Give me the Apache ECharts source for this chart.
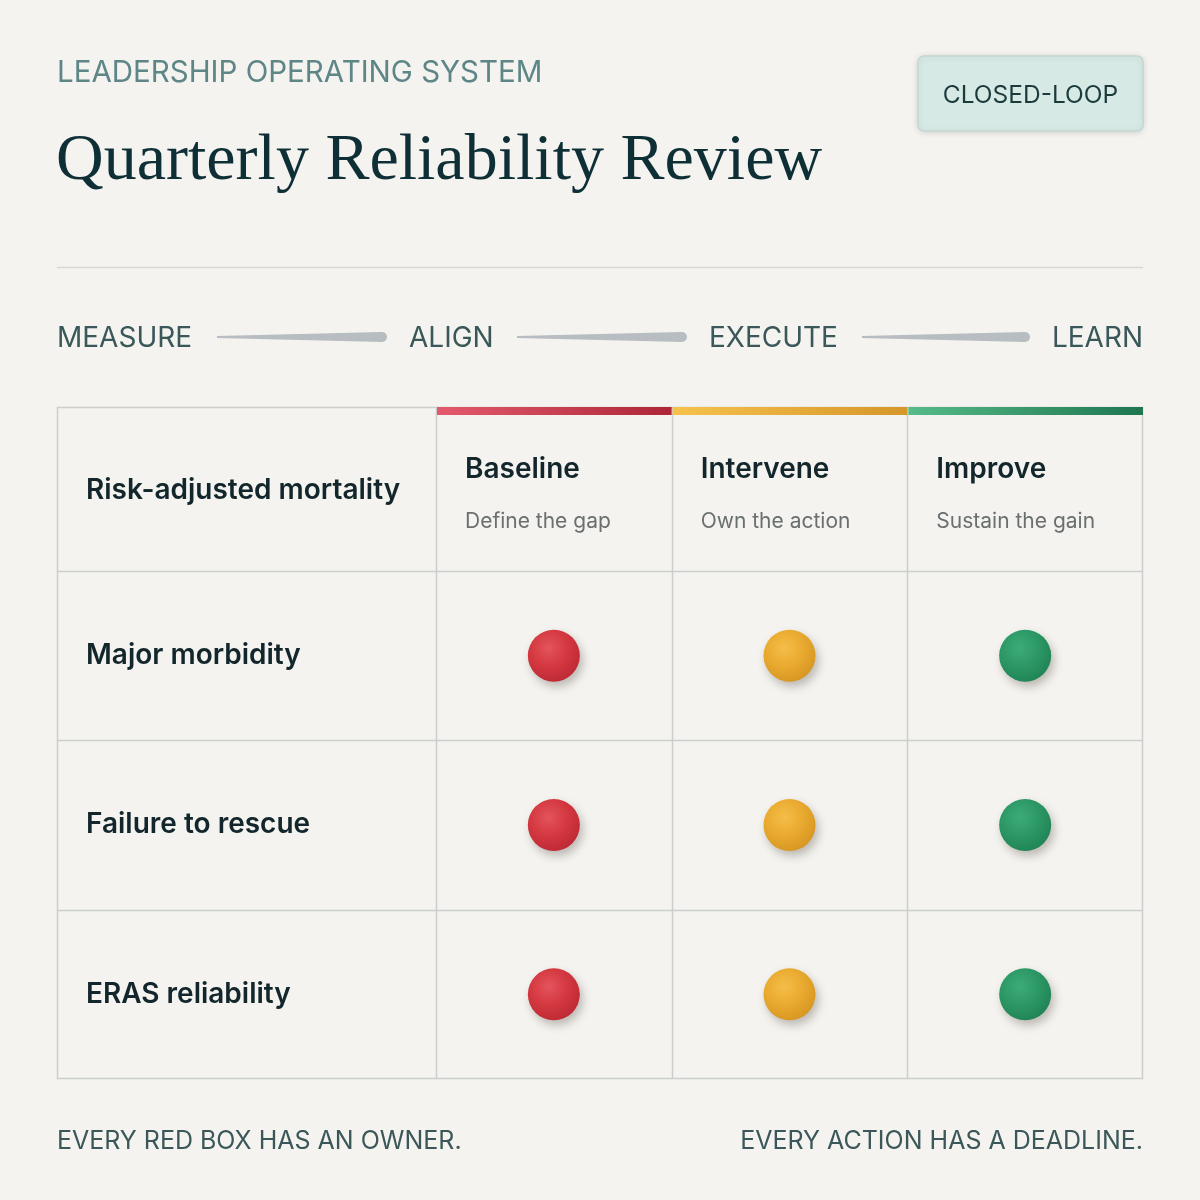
<!DOCTYPE html>
<html>
<head>
<meta charset="utf-8">
<title>Quarterly Reliability Review</title>
<script src="https://cdn.jsdelivr.net/npm/echarts@6/dist/echarts.min.js"></script>
<style>
  html, body { margin: 0; padding: 0; background: #f4f3ef; }
  #chart { width: 1200px; height: 1200px; }
</style>
</head>
<body>
<div id="chart"></div>
<script>
'use strict';

var stages = ['Baseline', 'Intervene', 'Improve'];
var stageNotes = ['Define the gap', 'Own the action', 'Sustain the gain'];
var metrics = ['Risk-adjusted mortality', 'Major morbidity', 'Failure to rescue', 'ERAS reliability'];
var processSteps = ['MEASURE', 'ALIGN', 'EXECUTE', 'LEARN'];
// status per scored metric row, per stage: 0 = red, 1 = amber, 2 = green
var statusRows = [
  [0, 1, 2],
  [0, 1, 2],
  [0, 1, 2]
];

var sans = 'Inter, "Noto Sans", sans-serif';
var ink = '#12262c';
var lineColor = '#cbcecc';

// table frame
var T = { left: 57, right: 1143, top: 407, head: 571, bottom: 1079, firstCol: 436 };
var colW = (T.right - T.firstCol) / stages.length;
var rowH = (T.bottom - T.head) / statusRows.length;

var stageColors = [
  ['#e45a6c', '#ad2638'],
  ['#f6c24c', '#d6962a'],
  ['#55bb88', '#1f7650']
];
var dotColors = [
  { hi: '#e4545c', mid: '#d43840', lo: '#bb2833' },
  { hi: '#f5be48', mid: '#e9aa30', lo: '#d49420' },
  { hi: '#3dab78', mid: '#2c9865', lo: '#1f8154' }
];

var scatterData = [];
statusRows.forEach(function (row, r) {
  row.forEach(function (s, c) {
    scatterData.push({
      value: [c, r, s],
      itemStyle: {
        color: {
          type: 'radial', x: 0.4, y: 0.35, r: 0.72,
          colorStops: [
            { offset: 0, color: dotColors[s].hi },
            { offset: 0.5, color: dotColors[s].mid },
            { offset: 1, color: dotColors[s].lo }
          ]
        }
      }
    });
  });
});

var graphics = [];

// header texts
graphics.push({
  type: 'text', x: 57, y: 73,
  style: { text: 'LEADERSHIP OPERATING SYSTEM', font: '400 29.5px ' + sans, fill: '#5e8686', verticalAlign: 'middle' }
});
graphics.push({
  type: 'text', x: 56, y: 162,
  style: { text: 'Quarterly Reliability Review', font: '400 66px "Liberation Serif", serif', fill: '#0f2f36', verticalAlign: 'middle' }
});

// badge
graphics.push({
  type: 'rect', shape: { x: 918, y: 56, width: 225, height: 75, r: 6 },
  style: { fill: '#d6e9e5', stroke: '#c3d6d2', lineWidth: 1.5, shadowBlur: 6, shadowColor: 'rgba(0,0,0,0.12)', shadowOffsetY: 1 }
});
graphics.push({
  type: 'text', x: 1030.5, y: 96,
  style: { text: 'CLOSED-LOOP', font: '400 24.5px ' + sans, fill: '#1b3a3c', align: 'center', verticalAlign: 'middle' }
});

// separator
graphics.push({
  type: 'line', shape: { x1: 57, y1: 267.5, x2: 1143, y2: 267.5 },
  style: { stroke: '#d7d8d3', lineWidth: 1.5 }
});

// process row
var stepX = [57, 409, 709, 1143];
var stepAlign = ['left', 'left', 'left', 'right'];
processSteps.forEach(function (p, i) {
  graphics.push({
    type: 'text', x: stepX[i], y: 338.5,
    style: { text: p, font: '400 28px ' + sans, fill: '#3a5759', align: stepAlign[i], verticalAlign: 'middle' }
  });
});
var connectors = [[217, 387], [517, 687], [862, 1030]];
connectors.forEach(function (c) {
  var y = 337;
  graphics.push({
    type: 'polygon',
    shape: { points: [[c[0], y - 1], [c[1] - 5, y - 5], [c[1] - 5, y + 5], [c[0], y + 1]] },
    style: { fill: '#b7bdc0' }
  });
  graphics.push({
    type: 'circle', shape: { cx: c[1] - 5, cy: y, r: 5 },
    style: { fill: '#b7bdc0' }
  });
});

// table lines
graphics.push({
  type: 'rect', shape: { x: T.left + 0.5, y: T.top + 0.5, width: T.right - T.left - 1, height: T.bottom - T.top - 1 },
  style: { fill: 'none', stroke: lineColor, lineWidth: 1.5 }
});
var vx = [T.firstCol];
for (var i = 1; i < stages.length; i++) vx.push(T.firstCol + colW * i);
vx.forEach(function (x) {
  graphics.push({
    type: 'line', shape: { x1: Math.round(x) + 0.5, y1: T.top, x2: Math.round(x) + 0.5, y2: T.bottom },
    style: { stroke: lineColor, lineWidth: 1.5 }
  });
});
for (var j = 0; j < statusRows.length; j++) {
  var hy = Math.round(T.head + rowH * j) + 0.5;
  graphics.push({
    type: 'line', shape: { x1: T.left, y1: hy, x2: T.right, y2: hy },
    style: { stroke: lineColor, lineWidth: 1.5 }
  });
}

// stage header cells
stages.forEach(function (s, i) {
  var x0 = T.firstCol + colW * i;
  graphics.push({
    type: 'rect', shape: { x: x0 + 1, y: T.top, width: colW - 1, height: 8 },
    style: {
      fill: {
        type: 'linear', x: 0, y: 0, x2: 1, y2: 0,
        colorStops: [{ offset: 0, color: stageColors[i][0] }, { offset: 1, color: stageColors[i][1] }]
      }
    }
  });
  graphics.push({
    type: 'text', x: x0 + 29, y: 470,
    style: { text: s, font: '600 28px ' + sans, fill: ink, verticalAlign: 'middle' }
  });
  graphics.push({
    type: 'text', x: x0 + 29, y: 521.5,
    style: { text: stageNotes[i], font: '400 21px ' + sans, fill: '#6a6f6f', verticalAlign: 'middle' }
  });
});

// metric in header row
graphics.push({
  type: 'text', x: 86, y: (T.top + T.head) / 2 + 2,
  style: { text: metrics[0], font: '600 28px ' + sans, fill: ink, verticalAlign: 'middle' }
});

// footer
graphics.push({
  type: 'text', x: 57, y: 1141,
  style: { text: 'EVERY RED BOX HAS AN OWNER.', font: '400 25px ' + sans, fill: '#3b5759', verticalAlign: 'middle' }
});
graphics.push({
  type: 'text', x: 1143, y: 1141,
  style: { text: 'EVERY ACTION HAS A DEADLINE.', font: '400 25px ' + sans, fill: '#3b5759', align: 'right', verticalAlign: 'middle' }
});

var chart = echarts.init(document.getElementById('chart'));

var option = {
  backgroundColor: '#f4f3ef',
  animation: false,
  grid: {
    left: T.firstCol,
    right: 1200 - T.right,
    top: T.head,
    bottom: 1200 - T.bottom
  },
  xAxis: {
    type: 'category',
    data: stages,
    axisLine: { show: false },
    axisTick: { show: false },
    axisLabel: { show: false },
    splitLine: { show: false }
  },
  yAxis: {
    type: 'category',
    data: metrics.slice(1),
    inverse: true,
    axisLine: { show: false },
    axisTick: { show: false },
    splitLine: { show: false },
    axisLabel: {
      align: 'left',
      margin: T.firstCol - 86,
      padding: [6, 0, 0, 0],
      fontFamily: sans,
      fontSize: 28,
      fontWeight: 600,
      color: ink
    }
  },
  series: [{
    type: 'scatter',
    data: scatterData,
    symbolSize: 52,
    itemStyle: {
      opacity: 1,
      shadowBlur: 10,
      shadowOffsetX: 3,
      shadowOffsetY: 5,
      shadowColor: 'rgba(40,30,20,0.28)'
    },
    z: 5
  }],
  graphic: graphics
};

chart.setOption(option);
window.addEventListener('resize', function () {
  chart.resize();
});
</script>
</body>
</html>
